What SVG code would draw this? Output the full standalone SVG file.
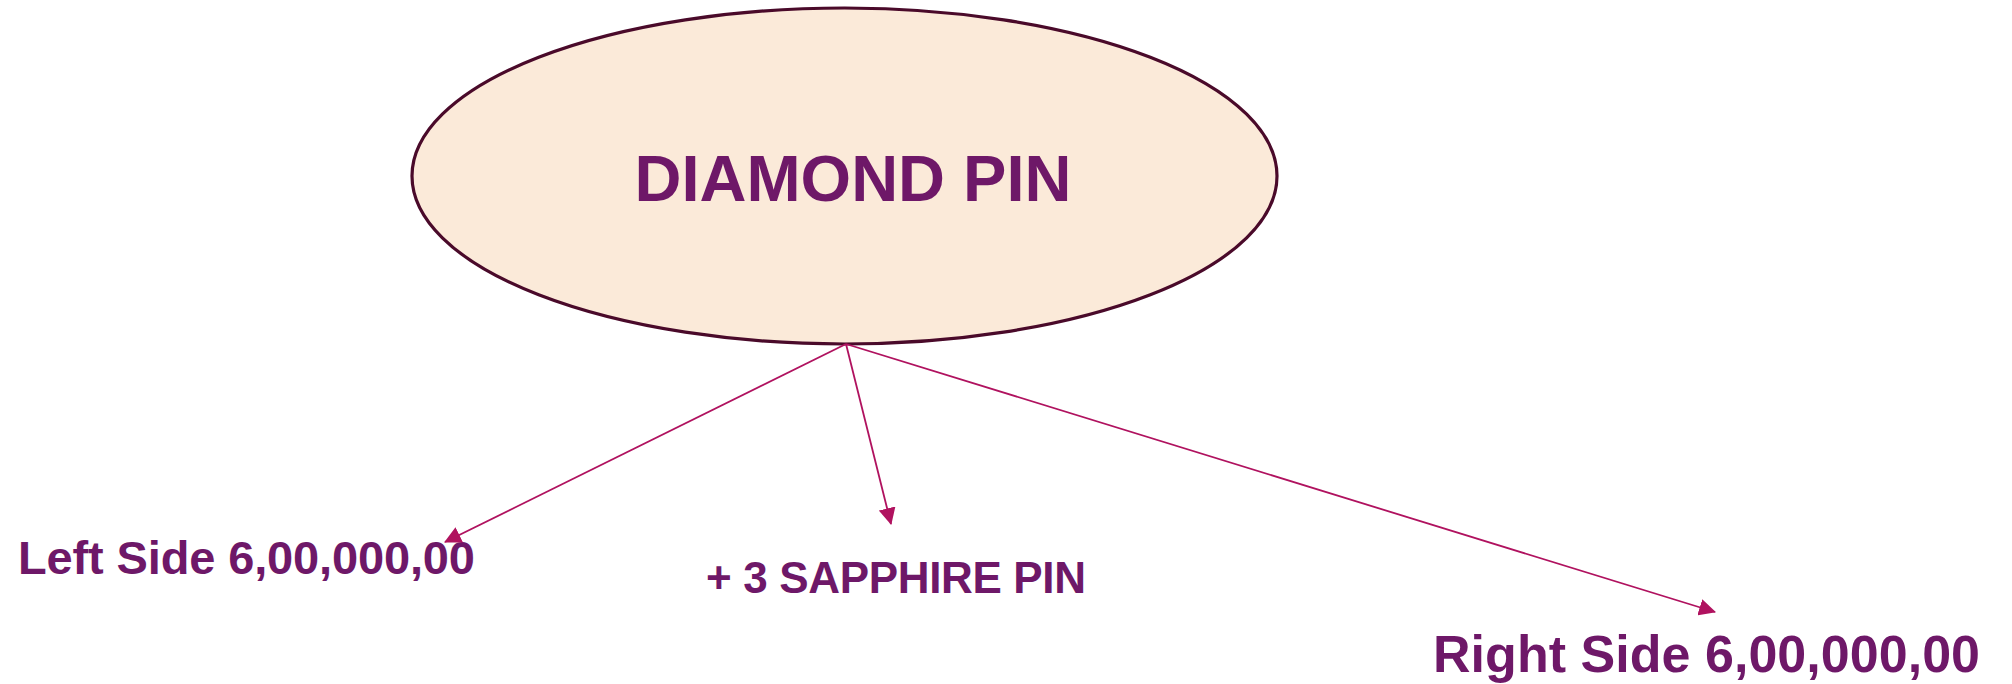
<svg xmlns="http://www.w3.org/2000/svg" width="2012" height="684" viewBox="0 0 2012 684">
<style>
.lbl{font-family:"Liberation Sans",Arial,sans-serif;font-weight:bold;fill:#6E1868}
.edge{stroke:#B0125F;stroke-width:1.8;fill:none}
</style>
<defs>
<marker id="arr" viewBox="0 0 16 16" refX="15" refY="8" markerWidth="17" markerHeight="17" markerUnits="userSpaceOnUse" orient="auto">
<path d="M0,0 L16,8 L0,16 Z" fill="#B0125F"/>
</marker>
</defs>
<rect width="2012" height="684" fill="#FFFFFF"/>
<g id="node-diamond">
<ellipse cx="844.5" cy="176" rx="432.5" ry="168" fill="#FBEAD9" stroke="#4A0A2A" stroke-width="3.2"/>
<text class="lbl" x="853" y="201" font-size="65" text-anchor="middle">DIAMOND PIN</text>
</g>
<g id="node-left">
<text class="lbl" x="18" y="574" font-size="47" textLength="457">Left Side 6,00,000,00</text>
</g>
<g id="node-sapphire">
<text class="lbl" x="706" y="593" font-size="44" textLength="380">+ 3 SAPPHIRE PIN</text>
</g>
<g id="node-right">
<text class="lbl" x="1433" y="672" font-size="52" textLength="547">Right Side 6,00,000,00</text>
</g>
<g id="connectors">
<line class="edge" x1="846" y1="344" x2="445" y2="542" marker-end="url(#arr)"/>
<line class="edge" x1="846" y1="344" x2="891" y2="524" marker-end="url(#arr)"/>
<line class="edge" x1="846" y1="344" x2="1715" y2="612" marker-end="url(#arr)"/>
</g>
</svg>
